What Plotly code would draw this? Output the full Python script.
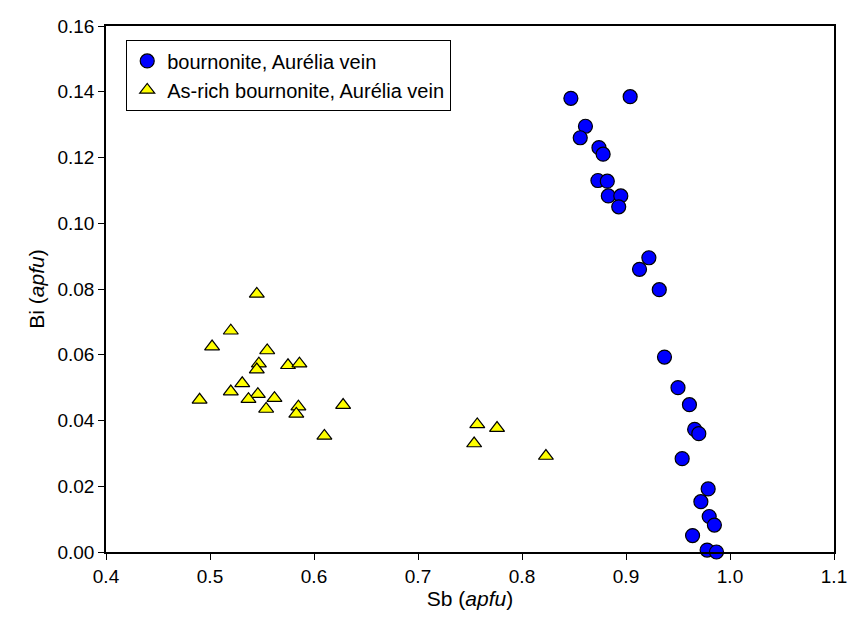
import plotly.graph_objects as go

# bournonite, Aurélia vein
bour_sb = [0.847, 0.904, 0.861, 0.856, 0.874, 0.878, 0.873, 0.882, 0.883, 0.895,
           0.893, 0.922, 0.913, 0.932, 0.937, 0.950, 0.961, 0.966, 0.970, 0.954,
           0.979, 0.972, 0.980, 0.985, 0.964, 0.978, 0.987]
bour_bi = [0.138, 0.1385, 0.1295, 0.126, 0.123, 0.121, 0.113, 0.1128, 0.1083, 0.1083,
           0.105, 0.0895, 0.086, 0.0798, 0.0593, 0.0500, 0.0448, 0.0373, 0.0360, 0.0284,
           0.0192, 0.0153, 0.0108, 0.0082, 0.0050, 0.0006, 0.0000]

# As-rich bournonite, Aurélia vein
asr_sb = [0.545, 0.520, 0.502, 0.555, 0.547, 0.545, 0.575, 0.586, 0.531, 0.520,
          0.546, 0.537, 0.562, 0.490, 0.554, 0.585, 0.583, 0.628, 0.610,
          0.757, 0.776, 0.754, 0.823]
asr_bi = [0.0785, 0.0673, 0.0625, 0.0613, 0.0573, 0.0555, 0.0568, 0.0573, 0.0513, 0.0488,
          0.0480, 0.0465, 0.0468, 0.0463, 0.0435, 0.0442, 0.0420, 0.0447, 0.0353,
          0.0388, 0.0377, 0.0330, 0.0292]

FONT = "Liberation Sans, Arial, sans-serif"

fig = go.Figure()
fig.add_trace(go.Scatter(
    x=bour_sb, y=bour_bi, mode="markers", name="bournonite, Aurélia vein",
    marker=dict(symbol="circle", size=14, color="#0000FF", line=dict(color="black", width=1.2)),
    cliponaxis=False))
fig.add_trace(go.Scatter(
    x=asr_sb, y=asr_bi, mode="markers", name="As-rich bournonite, Aurélia vein",
    marker=dict(symbol="triangle-up", size=13, color="#FFFF00", line=dict(color="black", width=1.2)),
    cliponaxis=False))

axis_common = dict(showline=True, linecolor="black", linewidth=1.5, mirror=True,
                   ticks="outside", ticklen=6, tickwidth=1.2, tickcolor="black",
                   showgrid=False, zeroline=False,
                   tickfont=dict(family=FONT, size=19, color="black"))

fig.update_xaxes(range=[0.4, 1.1], dtick=0.1, tick0=0.4, tickformat=".1f",
                 title=dict(text="Sb (<i>apfu</i>)", font=dict(family=FONT, size=21, color="black"), standoff=5),
                 **axis_common)
fig.update_yaxes(range=[0, 0.16], dtick=0.02, tick0=0, tickformat=".2f",
                 title=dict(text="Bi (<i>apfu</i>)", font=dict(family=FONT, size=21, color="black"), standoff=7),
                 **axis_common)

fig.update_layout(
    width=856, height=617,
    margin=dict(l=98, r=30, t=18, b=73, autoexpand=False),
    plot_bgcolor="white", paper_bgcolor="white",
    font=dict(family=FONT, size=19, color="black"),
    legend=dict(x=0.0275, y=0.973, xanchor="left", yanchor="top",
                bordercolor="black", borderwidth=1.2, bgcolor="white",
                font=dict(family=FONT, size=20), itemsizing="trace", tracegroupgap=0),
)

fig.write_html("out.html")
